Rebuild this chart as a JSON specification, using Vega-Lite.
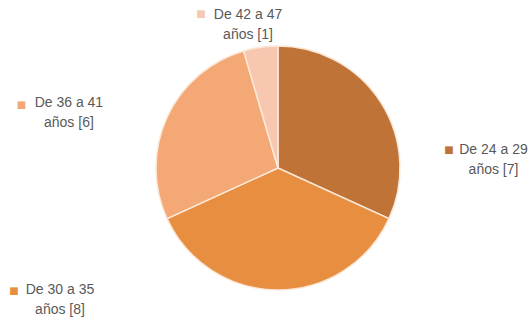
{
  "$schema": "https://vega.github.io/schema/vega-lite/v6.json",
  "autosize": "none",
  "padding": 0,
  "width": 556,
  "height": 336,
  "background": "white",
  "view": {"stroke": null},
  "data": {"values": [
    {"k": 0, "cat": "De 24 a 29 años", "label": "De 24 a 29\naños [7]", "n": 7},
    {"k": 1, "cat": "De 30 a 35 años", "label": "De 30 a 35\naños [8]", "n": 8},
    {"k": 2, "cat": "De 36 a 41 años", "label": "De 36 a 41\naños [6]", "n": 6},
    {"k": 3, "cat": "De 42 a 47 años", "label": "De 42 a 47\naños [1]", "n": 1}
  ]},
  "encoding": {
    "theta": {"field": "n", "type": "quantitative", "stack": true},
    "order": {"field": "k", "type": "quantitative"},
    "color": {"field": "cat", "type": "nominal", "legend": null,
      "scale": {"domain": ["De 24 a 29 años", "De 30 a 35 años", "De 36 a 41 años", "De 42 a 47 años"],
                "range": ["#c07337", "#e88e40", "#f3a875", "#f7c8af"]}}
  },
  "layer": [
    {"mark": {"type": "arc", "outerRadius": 122, "stroke": "#fbe8d8", "strokeWidth": 1.5}},
    {"mark": {"type": "text", "radius": 165, "fontSize": 10, "font": "DejaVu Sans", "align": "center", "baseline": "middle",
      "dx": {"expr": "[32.2,-264,-106.4,-53.5][datum.k]"},
      "dy": {"expr": "[71.2,-42,5.1,9.8][datum.k]"}},
     "encoding": {"text": {"value": "■"}}},
    {"mark": {"type": "text", "radius": 165, "fontSize": 14, "font": "Liberation Sans", "align": "center", "baseline": "middle",
      "lineHeight": 20, "lineBreak": "\n", "color": "#595959",
      "dx": {"expr": "[76.7,-218,-59,-6.5][datum.k]"},
      "dy": {"expr": "[71.2,-43,3.6,10.3][datum.k]"}},
     "encoding": {"text": {"field": "label", "type": "nominal"}, "color": {"value": "#595959"}}}
  ]
}
